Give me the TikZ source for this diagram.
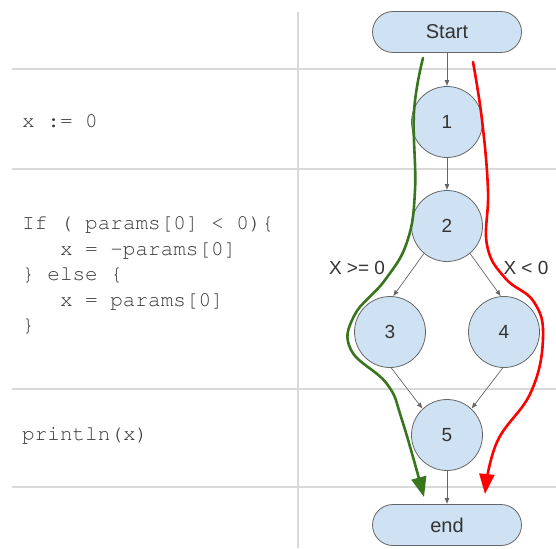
\documentclass[tikz,border=0pt]{standalone}
\usepackage[T1]{fontenc}
\usepackage{fontspec}
\setmainfont{Liberation Sans}
\usetikzlibrary{arrows.meta}
\definecolor{nodefill}{HTML}{CFE2F3}
\definecolor{nodeline}{HTML}{666666}
\definecolor{gridgray}{HTML}{D9D9D9}
\definecolor{pathpos}{HTML}{38761D}
\definecolor{pathneg}{HTML}{FF0000}
\definecolor{labeltext}{HTML}{333333}
\definecolor{codetext}{HTML}{383838}
\newcommand\codefont{\fontencoding{T1}\fontfamily{pcr}\selectfont\fontsize{21}{25.5}\selectfont}
\tikzset{
  gridline/.style={draw=gridgray, line width=1.3pt},
  blocknode/.style={circle, draw=nodeline, fill=nodefill, line width=0.8pt,
    minimum size=71pt, inner sep=0pt, text=labeltext, font=\fontsize{19}{22}\selectfont},
  termnode/.style={rectangle, rounded corners=20.5pt, draw=nodeline, fill=nodefill,
    line width=0.8pt, minimum width=149pt, minimum height=41pt, inner sep=0pt,
    text=labeltext, font=\fontsize{20}{22}\selectfont},
  flow/.style={draw=nodeline, line width=0.7pt, -{Latex[length=6pt,width=5pt]}},
  codeline/.style={anchor=base west, inner sep=0pt, text=codetext, font=\codefont},
  condlabel/.style={inner sep=0pt, text=labeltext, font=\fontsize{19}{22}\selectfont},
  execpath/.style={line width=2.6pt, line cap=round,
    -{Triangle[width=15pt,length=20pt]}},
}
\begin{document}
\begin{tikzpicture}[x=1pt,y=-1pt]
\useasboundingbox (0,0) rectangle (556,548);

% table rules
\draw[gridline] (12,69) -- (556,69);
\draw[gridline] (12,169) -- (556,169);
\draw[gridline] (12,389) -- (556,389);
\draw[gridline] (12,487) -- (556,487);
\draw[gridline] (298,12) -- (298,548);

% source code column
\node[codeline] (c0) at (22,128) {x\ :=\ 0};
\node[codeline] (c1) at (22,229) {If\ (\ params[0]\ <\ 0)\{};
\node[codeline] (c2) at (22,255) {\ \ \ x\ =\ -params[0]};
\node[codeline] (c3) at (22,280) {\}\ else\ \{};
\node[codeline] (c4) at (22,306) {\ \ \ x\ =\ params[0]};
\node[codeline] (c5) at (22,331) {\}};
\node[codeline] (c6) at (22,440) {println(x)};

% control flow graph
\node[termnode] (start) at (447,32) {Start};
\node[blocknode] (n1) at (447,122) {1};
\node[blocknode] (n2) at (447,226) {2};
\node[blocknode] (n3) at (390,332) {3};
\node[blocknode] (n4) at (504,332) {4};
\node[blocknode] (n5) at (447,435) {5};
\node[termnode] (finish) at (447,525) {end};

\draw[flow] (start) -- (n1);
\draw[flow] (n1) -- (n2);
\draw[flow] (n2.-130) -- (n3.85);
\draw[flow] (n2.-50) -- (n4.95);
\draw[flow] (n3.-88) -- (n5.133);
\draw[flow] (n4.-92) -- (n5.47);
\draw[flow] (n5) -- (finish);

\node[condlabel] (lpos) at (357,268) {X >= 0};
\node[condlabel] (lneg) at (526,268) {X < 0};

% execution paths
\coordinate (pstart) at (423,58);
\coordinate (pend) at (424,497);
\coordinate (qstart) at (473,62);
\coordinate (qend) at (485,494);
\draw[execpath, draw=pathpos] plot[smooth, tension=0.7] coordinates {
  (pstart) (414,112) (415,190) (407,242) (385,280) (354,316) (351,350)
  (387,384) (402,420) (pend)};
\draw[execpath, draw=pathneg] plot[smooth, tension=0.7] coordinates {
  (qstart) (482,120) (488,190) (487,245) (505,278) (534,302) (543,338)
  (531,392) (497,442) (qend)};
\end{tikzpicture}
\end{document}
